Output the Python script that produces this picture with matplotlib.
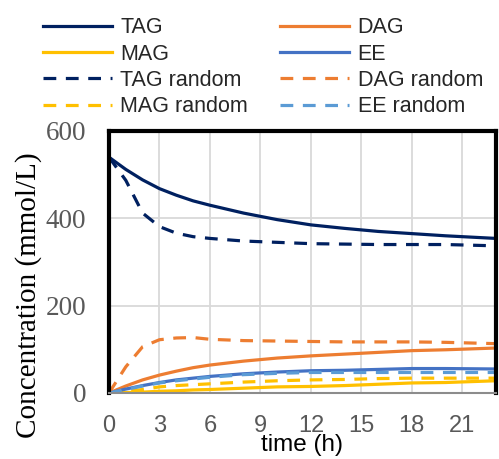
import matplotlib
matplotlib.use("Agg")
import matplotlib.pyplot as plt

# time points (h) and concentrations (mmol/L)
time_h = [0, 1, 2, 3, 4, 5, 6, 8, 10, 12, 14, 16, 18, 20, 23]

tag = [540, 512, 488, 468, 453, 440, 430, 412, 397, 385, 377, 370, 365, 360, 354]
dag = [0, 16, 30, 41, 50, 58, 64, 73, 80, 85, 89, 93, 97, 99, 103]
mag = [0, 1, 2, 4, 5, 7, 8, 11, 14, 15, 17, 20, 23, 24, 28]
ee = [0, 9, 17, 24, 30, 34, 38, 44, 48, 51, 52, 54, 56, 56, 55]

tag_random = [540, 487, 412, 381, 366, 358, 354, 348, 345, 342, 341, 340, 340, 340, 337]
dag_random = [0, 60, 106, 122, 126, 127, 123, 120, 119, 118, 117, 117, 117, 116, 113]
mag_random = [0, 3, 8, 14, 17, 19, 21, 25, 28, 30, 31, 33, 34, 34, 34]
ee_random = [0, 8, 16, 23, 28, 32, 36, 42, 45, 47, 47, 47, 47, 47, 47]

x_ticks = [0, 3, 6, 9, 12, 15, 18, 21]
y_ticks = [0, 200, 400, 600]

navy = "#002060"
orange = "#ED7D31"
yellow = "#FFC000"
blue = "#4472C4"
lightblue = "#5B9BD5"

fig = plt.figure(figsize=(4.99, 4.59), dpi=100)
ax = fig.add_axes([0.2184, 0.1438, 0.7756, 0.5708])

lw = 2.3
dash = (0, (4, 3))
h = {}
h["TAG"], = ax.plot(time_h, tag, color=navy, lw=lw)
h["DAG"], = ax.plot(time_h, dag, color=orange, lw=lw)
h["MAG"], = ax.plot(time_h, mag, color=yellow, lw=lw)
h["EE"], = ax.plot(time_h, ee, color=blue, lw=lw)
h["TAG random"], = ax.plot(time_h, tag_random, color=navy, lw=lw, ls=dash)
h["DAG random"], = ax.plot(time_h, dag_random, color=orange, lw=lw, ls=dash)
h["MAG random"], = ax.plot(time_h, mag_random, color=yellow, lw=lw, ls=dash)
h["EE random"], = ax.plot(time_h, ee_random, color=lightblue, lw=lw, ls=dash)

ax.set_xlim(0, 23)
ax.set_ylim(0, 600)
ax.set_xticks(x_ticks)
ax.set_yticks(y_ticks)
ax.grid(True, color="#d9d9d9", lw=1.3)
ax.set_axisbelow(True)

for side in ["left", "top", "right"]:
    ax.spines[side].set_linewidth(3)
    ax.spines[side].set_color("black")
ax.spines["bottom"].set_color("#8c8c8c")
ax.spines["bottom"].set_linewidth(1.5)

ax.tick_params(length=0)
ax.tick_params(axis="x", pad=16)
ax.tick_params(axis="y", pad=16.5)
for t in ax.get_xticklabels():
    t.set_fontfamily("Liberation Sans")
    t.set_fontsize(17)
    t.set_color("#595959")
for t in ax.get_yticklabels():
    t.set_fontfamily("Liberation Serif")
    t.set_fontsize(19.5)
    t.set_color("#595959")

ax.set_xlabel("time (h)", fontsize=17.5, family="Liberation Sans", labelpad=-2)
ax.set_ylabel("Concentration (mmol/L)", fontsize=21, family="Liberation Serif")
ax.yaxis.set_label_coords(-0.172, 0.374)

# legend fills column by column, so order it to read row by row
order = ["TAG", "MAG", "TAG random", "MAG random", "DAG", "EE", "DAG random", "EE random"]
leg = fig.legend([h[k] for k in order], order, loc="upper left",
                 bbox_to_anchor=(0.051, 1.0), ncol=2, frameon=False,
                 prop={"family": "Liberation Sans", "size": 15.5},
                 handlelength=3.2, handletextpad=0.4, columnspacing=1.5,
                 labelspacing=0.25, borderaxespad=0.4)
for t in leg.get_texts():
    t.set_color("#262626")

fig.savefig("out.png", dpi=100)
